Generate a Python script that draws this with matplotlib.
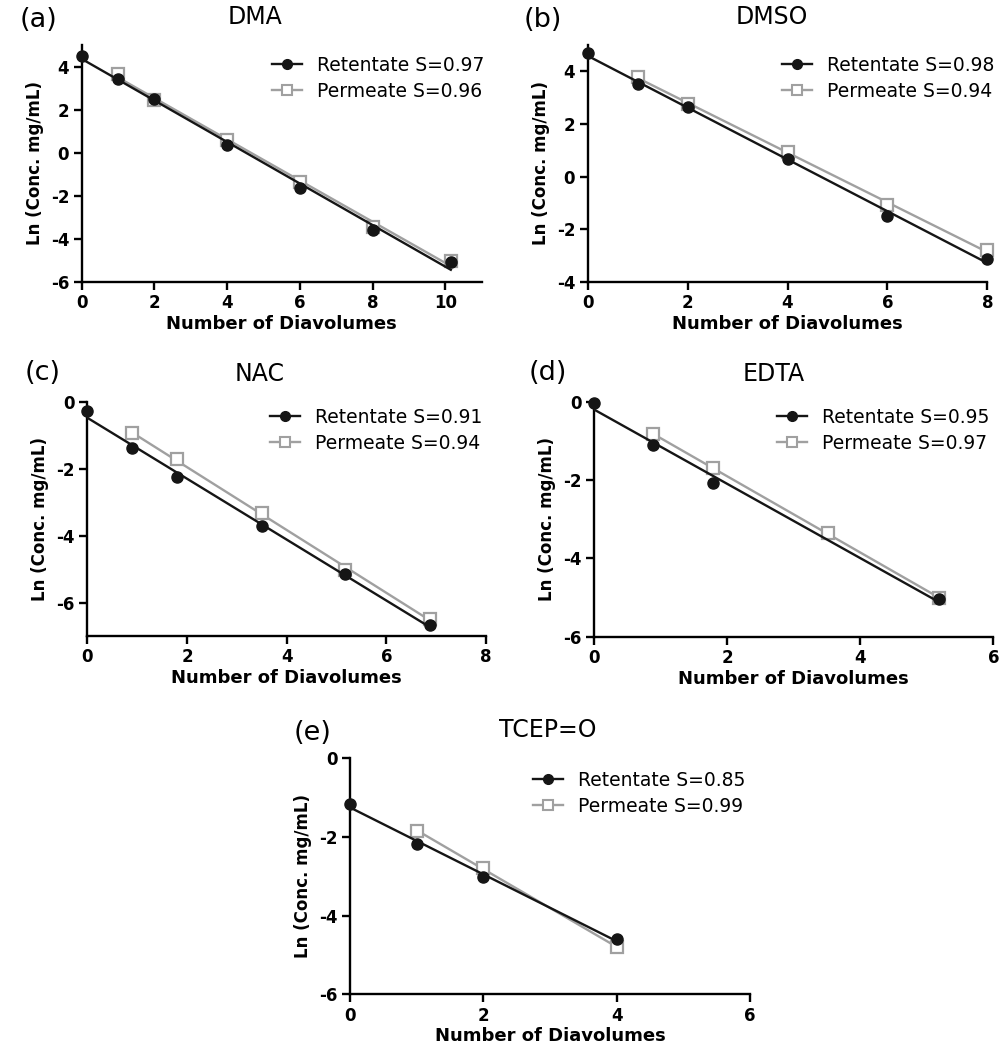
import numpy as np
import matplotlib
matplotlib.use("Agg")
from matplotlib import pyplot as plt

plt.rcParams['font.family'] = ['DejaVu Sans']
plt.rcParams['axes.unicode_minus'] = False

# panel names, letters and slopes shown in legend
names = ["DMA", "DMSO", "NAC", "EDTA", "TCEP=O"]
letters = ["(a)", "(b)", "(c)", "(d)", "(e)"]
s_ret = ["0.97", "0.98", "0.91", "0.95", "0.85"]
s_perm = ["0.96", "0.94", "0.94", "0.97", "0.99"]

# retentate data (diavolumes, ln conc)
ret_x = [
    [0, 1, 2, 4, 6, 8, 10.15],
    [0, 1, 2, 4, 6, 8],
    [0, 0.89, 1.79, 3.5, 5.17, 6.87],
    [0, 0.89, 1.79, 5.19],
    [0, 1, 2, 4],
]
ret_y = [
    [4.5, 3.4, 2.5, 0.35, -1.65, -3.6, -5.1],
    [4.7, 3.5, 2.65, 0.65, -1.5, -3.15],
    [-0.27, -1.39, -2.26, -3.7, -5.16, -6.68],
    [-0.03, -1.11, -2.07, -5.05],
    [-1.16, -2.18, -3.01, -4.6],
]
# permeate data
perm_x = [
    [1, 2, 4, 6, 8, 10.15],
    [1, 2, 4, 6, 8],
    [0.89, 1.79, 3.5, 5.17, 6.87],
    [0.89, 1.79, 3.52, 5.19],
    [1, 2, 4],
]
perm_y = [
    [3.65, 2.45, 0.6, -1.35, -3.45, -5.05],
    [3.8, 2.75, 0.95, -1.1, -2.8],
    [-0.94, -1.72, -3.32, -5.03, -6.48],
    [-0.83, -1.70, -3.36, -5.02],
    [-1.84, -2.8, -4.8],
]

xlims = [(0, 11), (0, 8), (0, 8), (0, 6), (0, 6)]
ylims = [(-6, 5), (-4, 5), (-7, 0), (-6, 0), (-6, 0)]
xticks = [[0, 2, 4, 6, 8, 10], [0, 2, 4, 6, 8], [0, 2, 4, 6, 8], [0, 2, 4, 6], [0, 2, 4, 6]]
yticks = [[-6, -4, -2, 0, 2, 4], [-4, -2, 0, 2, 4], [-6, -4, -2, 0], [-6, -4, -2, 0], [-6, -4, -2, 0]]

W, H = 1002, 1049
# axes boxes in pixels: left, right, top, bottom
boxes = [
    (81.7, 481.7, 45, 281.7),
    (587.7, 987.3, 45, 281.7),
    (87.3, 486, 401.7, 636),
    (594, 993.3, 401.7, 636.7),
    (350, 750, 758.3, 994.3),
]
title_x = [0.433, 0.46, 0.433, 0.449, 0.494]
letter_pos = [(38, 20), (543, 20), (43, 373), (548, 373), (313, 733)]
# legend handle start (axes fraction) and first row centre (pixels)
leg_x = [0.476, 0.485, 0.458, 0.4575, 0.458]
leg_row = [68, 68, 420, 420, 783]

fig = plt.figure(figsize=(W / 100, H / 100), dpi=100)
black = "#151515"
grey = "#a0a0a0"

for i in range(5):
    l, r, t, b = boxes[i]
    h = b - t
    ax = fig.add_axes([l / W, 1 - b / H, (r - l) / W, h / H])
    for x, y, col, mk in [
        (perm_x[i], perm_y[i], grey, 's'),
        (ret_x[i], ret_y[i], black, 'o'),
    ]:
        x = np.array(x)
        y = np.array(y)
        k, c = np.polyfit(x, y, 1)
        xf = np.array([x.min(), x.max()])
        if mk == 'o':
            ax.plot(xf, k * xf + c, color=col, lw=1.7, zorder=3)
            ax.plot(x, y, 'o', color=col, ms=8, zorder=4, clip_on=False)
        else:
            ax.plot(xf, k * xf + c, color=col, lw=1.7, zorder=2)
            ax.plot(x, y, 's', mfc='white', mec=col, mew=1.6, ms=9, zorder=3, clip_on=False)
    # legend handles
    h1, = ax.plot([], [], '-o', color=black, lw=1.7, ms=7)
    h2, = ax.plot([], [], '-s', color=grey, lw=1.7, ms=7.5, mfc='white', mew=1.5)
    ax.legend([h1, h2], [f"Retentate S={s_ret[i]}", f"Permeate S={s_perm[i]}"],
              loc='upper left', bbox_to_anchor=(leg_x[i], (b - (leg_row[i] - 12)) / h),
              frameon=False, fontsize=13.5, handlelength=1.6, handletextpad=0.8,
              borderpad=0, borderaxespad=0, labelspacing=0.35)

    ax.set_xlim(*xlims[i])
    ax.set_ylim(*ylims[i])
    ax.set_xticks(xticks[i])
    ax.set_yticks(yticks[i])
    for s in ['top', 'right']:
        ax.spines[s].set_visible(False)
    for s in ['left', 'bottom']:
        ax.spines[s].set_linewidth(1.7)
    ax.tick_params(direction='out', length=6, width=1.7, labelsize=12, pad=3)
    for lbl in ax.get_xticklabels() + ax.get_yticklabels():
        lbl.set_fontweight('bold')
    ax.set_xlabel("Number of Diavolumes", fontsize=13, fontweight='bold')
    ax.xaxis.set_label_coords(0.5, -33 / h)
    ax.set_ylabel("Ln (Conc. mg/mL)", fontsize=12, fontweight='bold')
    ax.yaxis.set_label_coords(-38 / (r - l), 0.5)
    ax.text(title_x[i], 1 + 28 / h, names[i], transform=ax.transAxes,
            ha='center', va='center', fontsize=17)
    fig.text(letter_pos[i][0] / W, 1 - letter_pos[i][1] / H, letters[i],
             ha='center', va='center', fontsize=19.5)

fig.savefig("out.png", dpi=100)
